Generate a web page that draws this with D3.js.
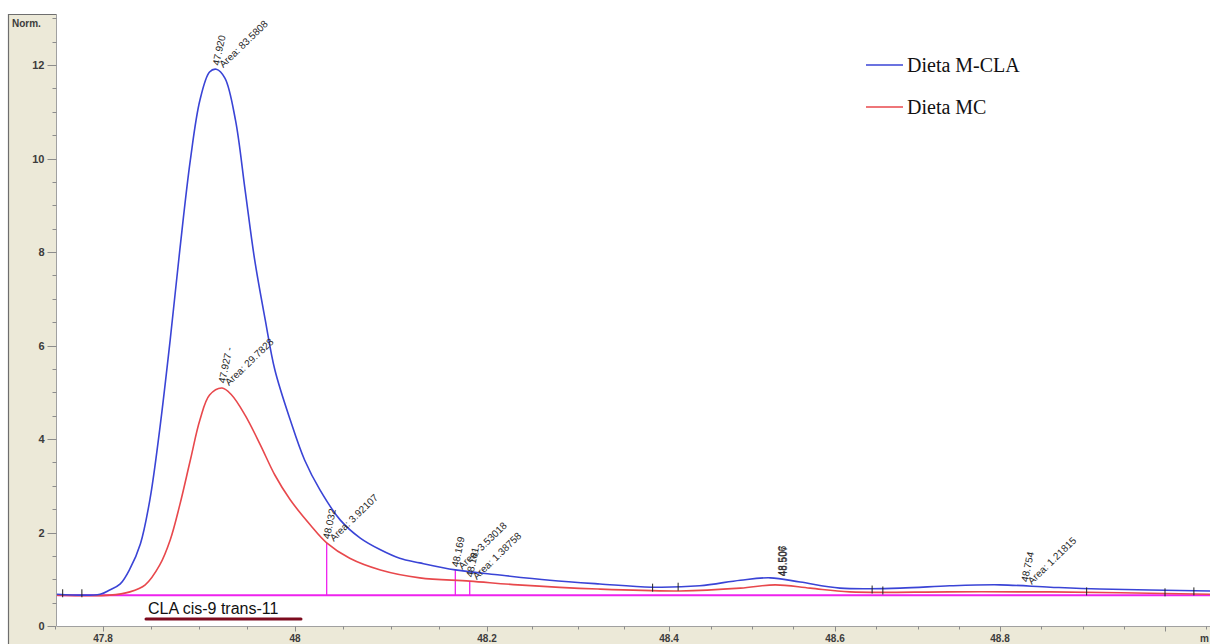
<!DOCTYPE html>
<html>
<head>
<meta charset="utf-8">
<title>CLA cis-9 trans-11</title>
<script src="https://cdn.jsdelivr.net/npm/d3@7"></script>
<style>
  body { margin: 0; background: #fff; }
  svg { display: block; }
</style>
</head>
<body>
<div id="chart"></div>
<script>
// retention times (min) and normalised signal
var blueTime = [47.752, 47.797, 47.807, 47.818, 47.828, 47.839, 47.849, 47.859, 47.870, 47.880,
  47.891, 47.901, 47.911, 47.918, 47.927, 47.938, 47.948, 47.958, 47.969, 47.979,
  47.995, 48.010, 48.026, 48.047, 48.068, 48.089, 48.109, 48.130, 48.167, 48.214,
  48.269, 48.324, 48.381, 48.437, 48.486, 48.522, 48.558, 48.606, 48.679, 48.739,
  48.800, 48.861, 48.921, 49.055];
var blueValue = [0.68, 0.68, 0.77, 0.90, 1.22, 1.76, 2.72, 4.19, 6.12, 8.04,
  9.97, 11.25, 11.85, 11.91, 11.72, 10.82, 9.33, 7.83, 6.55, 5.48,
  4.41, 3.55, 2.91, 2.27, 1.88, 1.63, 1.45, 1.35, 1.20, 1.09,
  0.98, 0.90, 0.83, 0.86, 0.98, 1.03, 0.94, 0.81, 0.81, 0.86,
  0.88, 0.83, 0.79, 0.75];

var redTime = [47.752, 47.807, 47.828, 47.844, 47.859, 47.870, 47.880, 47.891, 47.901, 47.911,
  47.924, 47.934, 47.948, 47.964, 47.979, 47.995, 48.016, 48.033, 48.057, 48.089,
  48.130, 48.182, 48.234, 48.322, 48.413, 48.486, 48.528, 48.570, 48.618, 48.739,
  48.861, 49.055];
var redValue = [0.66, 0.66, 0.73, 0.88, 1.30, 1.84, 2.59, 3.55, 4.41, 4.94,
  5.09, 4.94, 4.51, 3.87, 3.23, 2.70, 2.16, 1.78, 1.45, 1.20,
  1.03, 0.96, 0.88, 0.79, 0.75, 0.81, 0.88, 0.81, 0.73, 0.73,
  0.73, 0.68];

var seriesNames = ["Dieta M-CLA", "Dieta MC"];
var seriesColors = ["#3a44d6", "#e8484c"];

// integration baseline and drop lines
var baseValue = 0.66;
var dropTime = [48.033, 48.167, 48.182];
var dropTop = [1.78, 1.20, 0.96];

// peak annotations: where they sit, retention label, area label
var annTime = [47.918, 47.924, 48.033, 48.167, 48.182, 48.537, 48.830];
var annValue = [11.95, 5.15, 1.82, 1.22, 1.00, 1.02, 0.90];
var annLabel = ["47.920", "47.927 -", "48.032", "48.169", "48.181", "48.506", "48.754"];
var annArea = ["Area: 83.5808", "Area: 29.7828", "Area: 3.92107", "Area: 3.53018", "Area: 1.38758", "", "Area: 1.21815"];

// little integration event marks
var markTime = [47.758, 47.778, 48.382, 48.411, 48.645, 48.658, 48.905, 49.000, 49.035];
var markValue = [0.70, 0.70, 0.82, 0.84, 0.78, 0.76, 0.74, 0.72, 0.74];

var xTicks = [47.8, 48, 48.2, 48.4, 48.6, 48.8];
var yTicks = [0, 2, 4, 6, 8, 10, 12];

var W = 1210, H = 644;
var plot = {left: 57, top: 14, bottom: 626};

// the time axis of the picture is not evenly spaced, so the scale is piecewise
var x = d3.scaleLinear()
    .domain(xTicks)
    .range([103, 295, 487, 669, 835, 1000]);
var y = d3.scaleLinear()
    .domain([0, 12])
    .range([plot.bottom, 65]);

var svg = d3.select("#chart").append("svg")
    .attr("width", W)
    .attr("height", H)
    .style("font-family", "Arial, 'Liberation Sans', sans-serif");

// grey panels round the plot
svg.append("rect").attr("x", 8).attr("y", plot.top).attr("width", plot.left - 8).attr("height", H - plot.top).attr("fill", "#ece9d8");
svg.append("rect").attr("x", 8).attr("y", plot.bottom).attr("width", W - 8).attr("height", H - plot.bottom).attr("fill", "#ece9d8");
svg.append("path")
    .attr("d", "M8.5," + H + "V" + (plot.top + 0.5) + "H" + plot.left)
    .attr("fill", "none").attr("stroke", "#6e6e6e").attr("stroke-width", 1.2);

// y axis
var yAxis = svg.append("g").attr("transform", "translate(" + (plot.left - 0.5) + ",0)");
yAxis.append("line").attr("y1", plot.top).attr("y2", plot.bottom).attr("stroke", "#a0a0a0");
yAxis.selectAll(".minor").data(d3.range(0, 13.01, 0.5))
  .enter().append("line")
    .attr("x1", function(d) { return d % 2 === 0 ? -9 : -4; })
    .attr("x2", 0)
    .attr("y1", function(d) { return Math.round(y(d)) + 0.5; })
    .attr("y2", function(d) { return Math.round(y(d)) + 0.5; })
    .attr("stroke", "#8c8c8c");
yAxis.selectAll(".lab").data(yTicks)
  .enter().append("text")
    .attr("x", -12)
    .attr("y", function(d) { return y(d) + 4; })
    .attr("text-anchor", "end")
    .attr("font-size", 11)
    .attr("font-weight", "bold")
    .attr("fill", "#3c3c3c")
    .text(function(d) { return d; });
svg.append("text").attr("x", 12).attr("y", 27)
    .attr("font-size", 10).attr("font-weight", "bold").attr("fill", "#3c3c3c")
    .text("Norm.");

// x axis
var xAxis = svg.append("g").attr("transform", "translate(0," + (plot.bottom + 0.5) + ")");
xAxis.append("line").attr("x1", plot.left).attr("x2", W).attr("stroke", "#a0a0a0");
xAxis.selectAll(".minor").data(d3.range(47.75, 49.06, 0.05))
  .enter().append("line")
    .attr("x1", function(d) { return Math.round(x(d)) + 0.5; })
    .attr("x2", function(d) { return Math.round(x(d)) + 0.5; })
    .attr("y1", 0)
    .attr("y2", function(d) { return Math.abs(d * 10 - Math.round(d * 10)) < 0.01 && Math.round(d * 10) % 2 === 0 ? 5 : 3; })
    .attr("stroke", "#8c8c8c");
xAxis.selectAll(".lab").data(xTicks)
  .enter().append("text")
    .attr("x", function(d) { return x(d); })
    .attr("y", 15)
    .attr("text-anchor", "middle")
    .attr("font-size", 10)
    .attr("font-weight", "bold")
    .attr("fill", "#3c3c3c")
    .text(function(d) { return d; });
// unit label, cut by the window edge in the original
xAxis.append("text").attr("x", 1200).attr("y", 15)
    .attr("font-size", 10).attr("font-weight", "bold").attr("fill", "#3c3c3c")
    .text("m");

// integration baseline and drops
svg.append("line")
    .attr("x1", plot.left).attr("x2", W)
    .attr("y1", y(baseValue)).attr("y2", y(baseValue))
    .attr("stroke", "#ee22ee").attr("stroke-width", 2);
svg.selectAll(".drop").data(dropTime)
  .enter().append("line")
    .attr("x1", function(d) { return x(d); })
    .attr("x2", function(d) { return x(d); })
    .attr("y1", y(baseValue))
    .attr("y2", function(d, i) { return y(dropTop[i]); })
    .attr("stroke", "#ee22ee").attr("stroke-width", 1.3);

// traces
var line = d3.line()
    .x(function(d) { return x(d[0]); })
    .y(function(d) { return y(d[1]); })
    .curve(d3.curveCatmullRom.alpha(0.5));

svg.append("path")
    .datum(d3.zip(redTime, redValue))
    .attr("fill", "none")
    .attr("stroke", seriesColors[1])
    .attr("stroke-width", 1.6)
    .attr("d", line);
svg.append("path")
    .datum(d3.zip(blueTime, blueValue))
    .attr("fill", "none")
    .attr("stroke", seriesColors[0])
    .attr("stroke-width", 1.6)
    .attr("d", line);

svg.selectAll(".mark").data(markTime)
  .enter().append("line")
    .attr("x1", function(d) { return x(d); })
    .attr("x2", function(d) { return x(d); })
    .attr("y1", function(d, i) { return y(markValue[i]) - 4; })
    .attr("y2", function(d, i) { return y(markValue[i]) + 4; })
    .attr("stroke", "#222").attr("stroke-width", 1);

// peak labels
var ann = svg.selectAll(".ann").data(annTime)
  .enter().append("g")
    .attr("transform", function(d, i) { return "translate(" + x(d) + "," + (y(annValue[i]) - 2) + ")"; });
ann.append("text")
    .attr("transform", function(d, i) { return i === 5 ? "rotate(-90)" : "rotate(-78)"; })
    .attr("x", 0).attr("y", 3)
    .attr("font-size", 10)
    .attr("fill", "#2a2a2a")
    .text(function(d, i) { return annLabel[i]; });
ann.filter(function(d, i) { return i === 5; }).append("text")
    .attr("transform", "rotate(-90)")
    .attr("x", 0).attr("y", 4)
    .attr("font-size", 10)
    .attr("fill", "#2a2a2a")
    .text("48.507");
ann.append("text")
    .attr("transform", "translate(7,3) rotate(-44)")
    .attr("font-size", 10)
    .attr("fill", "#2a2a2a")
    .text(function(d, i) { return annArea[i]; });

// peak name under the trace
svg.append("text").attr("x", 148).attr("y", 614)
    .attr("font-size", 16).attr("fill", "#111")
    .text("CLA cis-9 trans-11");
svg.append("line")
    .attr("x1", 146).attr("x2", 301).attr("y1", 619).attr("y2", 619)
    .attr("stroke", "#7c0b1e").attr("stroke-width", 3).attr("stroke-linecap", "round");

// legend
var legend = svg.selectAll(".leg").data(seriesNames)
  .enter().append("g")
    .attr("transform", function(d, i) { return "translate(866," + (65 + i * 42) + ")"; });
legend.append("line")
    .attr("x1", 0).attr("x2", 37)
    .attr("stroke", function(d, i) { return seriesColors[i]; })
    .attr("stroke-width", 1.6);
legend.append("text")
    .attr("x", 41).attr("y", 7)
    .attr("font-family", "'Liberation Serif', 'Times New Roman', serif")
    .attr("font-size", 20)
    .attr("fill", "#111")
    .text(function(d) { return d; });
</script>
</body>
</html>
